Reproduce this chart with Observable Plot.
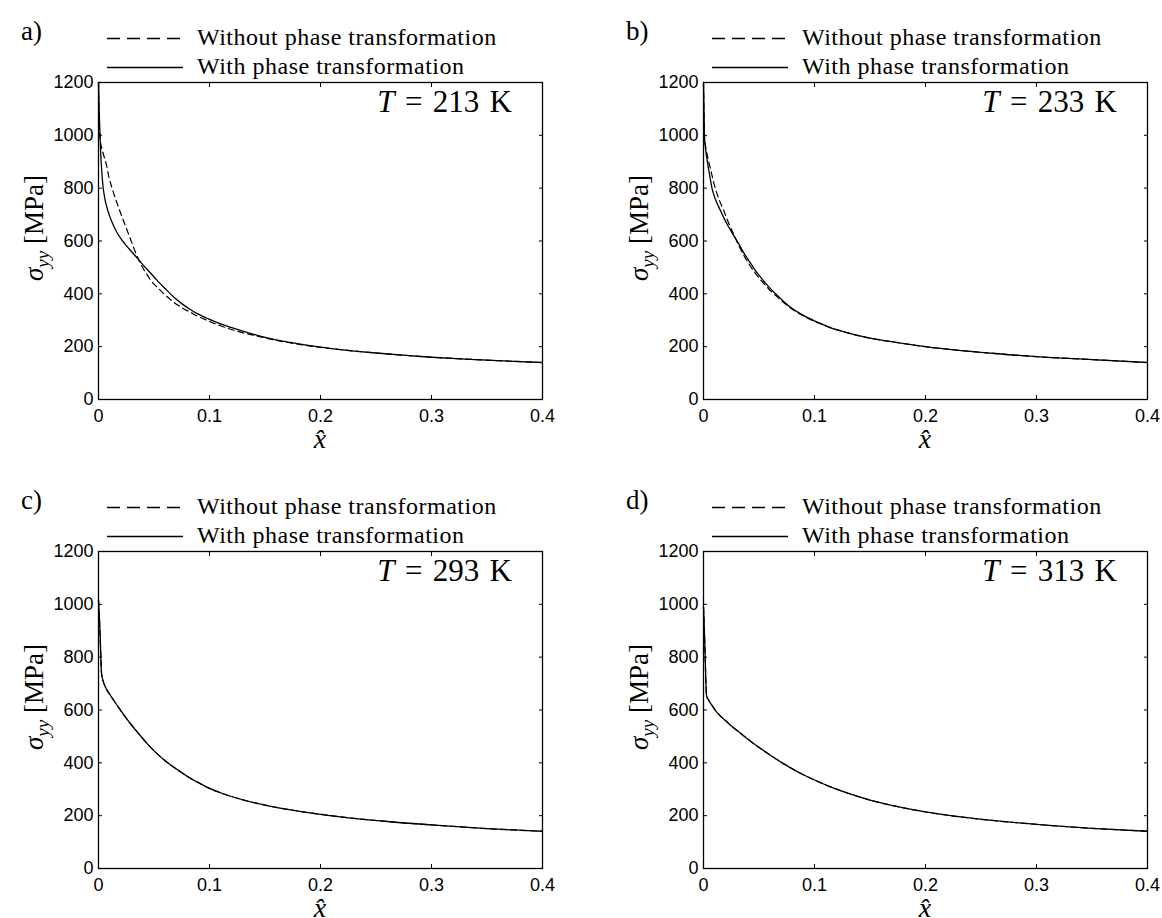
<!DOCTYPE html>
<html><head><meta charset="utf-8">
<script src="https://cdn.jsdelivr.net/npm/d3@7"></script>
<script src="https://cdn.jsdelivr.net/npm/@observablehq/plot@0.6"></script>
<style>
body{margin:0;background:#fff;}
#root{position:relative;width:1162px;height:918px;overflow:hidden;background:#fff;}
.panel{position:absolute;width:581px;height:449px;}
.panel svg{max-width:none !important;display:block;}
</style></head><body><div id="root"></div>
<script>
// ---- data ----
const panelLetters = ["a)", "b)", "c)", "d)"];
const temperatures = [213, 233, 293, 313];
const seriesNames = ["Without phase transformation", "With phase transformation"];
const xTicks = [0, 0.1, 0.2, 0.3, 0.4];
const yTicks = [0, 200, 400, 600, 800, 1000, 1200];

// panel a (T = 213 K)
const aWithoutX = [0, 0.0003, 0.0012, 0.004, 0.0068, 0.0095, 0.013, 0.0185, 0.024, 0.029, 0.0345, 0.040, 0.0438, 0.048, 0.0529, 0.060, 0.0679, 0.075, 0.0829, 0.090, 0.098, 0.110, 0.128, 0.143, 0.158, 0.173, 0.188, 0.200, 0.220, 0.250, 0.280, 0.300, 0.330, 0.360, 0.400];
const aWithoutS = [1200, 1100, 995, 935, 895, 840, 790, 722, 660, 605, 545, 498, 472, 446, 425, 396, 368, 348, 330, 314, 299, 279, 255, 240, 226, 214, 204, 197, 188, 176, 166, 160, 153, 147, 140];
const aWithX = [0, 0.0005, 0.0012, 0.002, 0.003, 0.004, 0.0055, 0.0075, 0.010, 0.013, 0.0165, 0.020, 0.024, 0.029, 0.035, 0.041, 0.047, 0.053, 0.060, 0.068, 0.075, 0.083, 0.090, 0.098, 0.110, 0.120, 0.130, 0.143, 0.160, 0.173, 0.200, 0.220, 0.250, 0.280, 0.300, 0.330, 0.360, 0.400];
const aWithS = [1200, 1110, 1020, 930, 860, 810, 765, 728, 695, 663, 633, 610, 588, 563, 535, 505, 478, 450, 420, 387, 363, 340, 323, 307, 286, 272, 259, 243, 226, 216, 198, 188, 176, 166, 160, 153, 147, 140];

// panel b (T = 233 K)
const bWithoutX = [0, 0.0004, 0.001, 0.0025, 0.0045, 0.007, 0.0108, 0.0145, 0.0183, 0.022, 0.0243, 0.028, 0.0318, 0.036, 0.0408, 0.046, 0.0514, 0.058, 0.0649, 0.072, 0.0784, 0.086, 0.0934, 0.103, 0.113, 0.130, 0.150, 0.175, 0.200, 0.230, 0.260, 0.300, 0.350, 0.400];
const bWithoutS = [1200, 1090, 990, 945, 905, 860, 797, 752, 715, 675, 652, 618, 582, 548, 514, 482, 453, 422, 394, 368, 346, 326, 309, 291, 274, 252, 232, 215, 200, 186, 175, 162, 151, 140];
const bWithX = [0, 0.0004, 0.0009, 0.002, 0.0033, 0.0055, 0.0078, 0.011, 0.0153, 0.019, 0.0228, 0.027, 0.0318, 0.036, 0.0408, 0.046, 0.0514, 0.058, 0.0649, 0.072, 0.0784, 0.086, 0.0934, 0.103, 0.113, 0.130, 0.150, 0.175, 0.200, 0.230, 0.260, 0.300, 0.350, 0.400];
const bWithS = [1200, 1100, 993, 945, 905, 850, 797, 755, 715, 682, 652, 622, 589, 557, 526, 493, 463, 430, 400, 372, 349, 328, 311, 292, 274, 252, 232, 215, 200, 186, 175, 162, 151, 140];

// panel c (T = 293 K)
const cWithoutX = [0, 0.0008, 0.0015, 0.0022, 0.0027, 0.004, 0.0063, 0.010, 0.0138, 0.019, 0.0243, 0.0288, 0.0363, 0.044, 0.0529, 0.060, 0.0679, 0.075, 0.0814, 0.090, 0.098, 0.113, 0.131, 0.149, 0.173, 0.200, 0.230, 0.260, 0.300, 0.350, 0.400];
const cWithoutS = [1015, 950, 880, 790, 740, 712, 686, 660, 636, 604, 573, 548, 510, 472, 434, 408, 383, 363, 345, 325, 307, 282, 259, 241, 222, 205, 190, 178, 165, 151, 141];
const cWithX = [0, 0.0008, 0.0015, 0.0022, 0.0027, 0.004, 0.0063, 0.010, 0.0138, 0.019, 0.0243, 0.0288, 0.0363, 0.044, 0.0529, 0.060, 0.0679, 0.075, 0.0814, 0.090, 0.098, 0.113, 0.131, 0.149, 0.173, 0.200, 0.230, 0.260, 0.300, 0.350, 0.400];
const cWithS = [1015, 950, 880, 790, 740, 712, 686, 660, 636, 604, 573, 548, 510, 472, 434, 408, 383, 363, 345, 325, 307, 282, 259, 241, 222, 205, 190, 178, 165, 151, 141];

// panel d (T = 313 K)
const dWithoutX = [0, 0.0008, 0.0015, 0.0022, 0.0027, 0.0048, 0.008, 0.0108, 0.015, 0.0198, 0.025, 0.0303, 0.0378, 0.046, 0.0543, 0.063, 0.0724, 0.0784, 0.090, 0.100, 0.115, 0.130, 0.150, 0.175, 0.200, 0.230, 0.260, 0.300, 0.350, 0.400];
const dWithoutS = [990, 900, 800, 700, 655, 636, 616, 598, 578, 560, 540, 522, 497, 470, 446, 421, 396, 381, 355, 335, 308, 285, 259, 234, 214, 196, 182, 167, 152, 141];
const dWithX = [0, 0.0008, 0.0015, 0.0022, 0.0027, 0.0048, 0.008, 0.0108, 0.015, 0.0198, 0.025, 0.0303, 0.0378, 0.046, 0.0543, 0.063, 0.0724, 0.0784, 0.090, 0.100, 0.115, 0.130, 0.150, 0.175, 0.200, 0.230, 0.260, 0.300, 0.350, 0.400];
const dWithS = [990, 900, 800, 700, 655, 636, 616, 598, 578, 560, 540, 522, 497, 470, 446, 421, 396, 381, 355, 335, 308, 285, 259, 234, 214, 196, 182, 167, 152, 141];

const seriesX = [[aWithoutX, aWithX], [bWithoutX, bWithX], [cWithoutX, cWithX], [dWithoutX, dWithX]];
const seriesS = [[aWithoutS, aWithS], [bWithoutS, bWithS], [cWithoutS, cWithS], [dWithoutS, dWithS]];

// ---- layout ----
const offsets = [[0, 0], [605, 0], [0, 469], [605, 469]];
const W = 581, H = 449, ML = 98, MR = 39, MT = 82, MB = 50;
const serif = "'Liberation Serif', 'Times New Roman', serif";
const sans = "'Liberation Sans', Arial, Helvetica, sans-serif";
const root = document.getElementById("root");

panelLetters.forEach((letter, p) => {
  const rows = (k) => seriesX[p][k].map((x, i) => ({x, s: seriesS[p][k][i], series: seriesNames[k]}));
  const without = rows(0), withT = rows(1);
  const fmt = d => String(d);
  const svg = Plot.plot({
    width: W, height: H,
    marginLeft: ML, marginRight: MR, marginTop: MT, marginBottom: MB,
    x: {domain: [0, 0.4]},
    y: {domain: [0, 1200]},
    style: {fontFamily: sans, fontSize: "18px", background: "transparent", overflow: "visible", color: "black", maxWidth: "none"},
    marks: [
      Plot.line(without, {x: "x", y: "s", stroke: "black", strokeWidth: 1.2, strokeDasharray: "6,4", curve: "monotone-x"}),
      Plot.line(withT, {x: "x", y: "s", stroke: "black", strokeWidth: 1.3, curve: "monotone-x"}),
      Plot.frame({stroke: "black", strokeWidth: 1.3}),
      Plot.axisX({ticks: xTicks, anchor: "bottom", tickSize: 0, tickPadding: 10, fontSize: 18, label: null, tickFormat: fmt}),
      Plot.axisX({ticks: xTicks, anchor: "bottom", tickSize: -4, text: null, label: null}),
      Plot.axisX({ticks: xTicks, anchor: "top", tickSize: -4, text: null, label: null}),
      Plot.axisY({ticks: yTicks, anchor: "left", tickSize: 0, tickPadding: 5, fontSize: 18, label: null, tickFormat: fmt}),
      Plot.axisY({ticks: yTicks, anchor: "left", tickSize: -4, text: null, label: null}),
      Plot.axisY({ticks: yTicks, anchor: "right", tickSize: -4, text: null, label: null})
    ]
  });
  const s = d3.select(svg);
  const g = s.append("g").attr("font-family", serif).attr("fill", "black").attr("text-anchor", "start");
  // panel letter
  g.append("text").attr("x", 21).attr("y", 40).attr("font-size", 27).text(letter);
  // legend
  const lx1 = ML + 9, lx2 = ML + 85, tx = ML + 99;
  const ly = [38.5, 67.5];
  ly.forEach((y, k) => {
    g.append("line").attr("x1", lx1).attr("x2", lx2).attr("y1", y).attr("y2", y)
      .attr("stroke", "black").attr("stroke-width", 1.3)
      .attr("stroke-dasharray", k === 0 ? "13,7" : null);
    g.append("text").attr("x", tx).attr("y", y + 6.5).attr("font-size", 24)
      .attr("letter-spacing", 0.5).text(seriesNames[k]);
  });
  // temperature label
  const tl = g.append("text").attr("x", ML + 414).attr("y", MT + 30).attr("font-size", 31).attr("text-anchor", "end");
  tl.append("tspan").attr("font-style", "italic").text("T");
  tl.append("tspan").text("\u2004=\u2004" + temperatures[p] + "\u2004K");
  // y label
  const yl = g.append("text").attr("transform", `translate(43,${MT + 146}) rotate(-90)`).attr("text-anchor", "middle").attr("font-size", 27);
  yl.append("tspan").attr("font-style", "italic").text("σ");
  yl.append("tspan").attr("font-style", "italic").attr("font-size", 19).attr("dy", 6).text("yy");
  yl.append("tspan").attr("dy", -6).text(" [MPa]");
  // x label
  g.append("text").attr("x", ML + 222).attr("y", MT + 317 + 49).attr("text-anchor", "middle")
    .attr("font-size", 28).attr("font-style", "italic").text("x\u0302");

  const div = document.createElement("div");
  div.className = "panel";
  div.style.left = offsets[p][0] + "px";
  div.style.top = offsets[p][1] + "px";
  div.appendChild(svg);
  root.appendChild(div);
});
</script></body></html>
